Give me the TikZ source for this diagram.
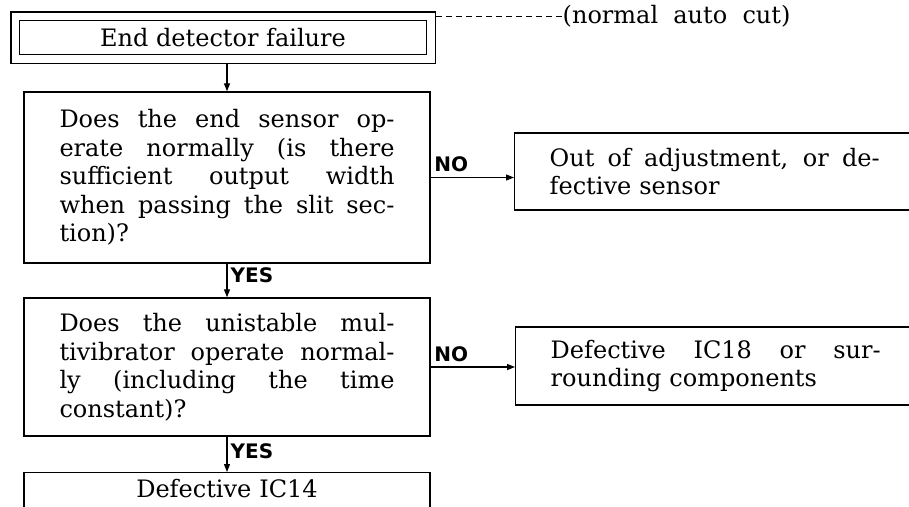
\documentclass[tikz,border=0pt]{standalone}
\usepackage{fontspec}
\setmainfont{DejaVu Serif}
\newfontfamily\labfont{DejaVu Sans}
\usetikzlibrary{arrows.meta}
% one justified line inside a box
\newcommand{\jl}[2][335pt]{\makebox[#1][s]{\spaceskip=0.32em plus 1fil\relax #2}}

\begin{document}
\begin{tikzpicture}[x=1pt,y=-1pt,line width=1.4pt,
    txt/.style={font=\fontsize{24pt}{28.5pt}\selectfont},
    topbox/.style={txt,draw,double,double distance=7.5pt,inner sep=0pt,
      minimum width=415.5pt,minimum height=42.5pt},
    qbox/.style={txt,draw,align=left,text width=335pt,inner xsep=35.5pt},
    rbox/.style={txt,draw,align=left,text width=330pt,inner xsep=35pt,anchor=west},
    arr/.style={-{Triangle[length=8pt,width=6pt]},line width=1.3pt},
    lab/.style={font=\labfont\bfseries\fontsize{20pt}{20pt}\selectfont,inner xsep=3pt,inner ysep=5pt}]
  \useasboundingbox (0,0) rectangle (909,506);

  \node[topbox] (fail) at (223,37.5) {End detector failure};
  \node[txt,inner sep=0pt,anchor=west] (cut) at (562,16) {(normal\ \ auto\ \ cut)};
  \draw[dashed,dash pattern=on 6pt off 4pt,line width=1pt,shorten <=4.5pt] (fail.east |- cut.west) -- (cut.west);

  \node[qbox,minimum height=171pt] (sensor) at (227,177.5) {%
    \jl{Does the end sensor op-}\\
    \jl{erate normally (is there}\\
    \jl{sufficient output width}\\
    \jl{when passing the slit sec-}\\
    tion)?};
  \node[rbox,minimum height=77pt] (adjust) at (514,171.5) {%
    \jl[330pt]{Out of adjustment, or de-}\\
    fective sensor};

  \node[qbox,minimum height=138pt] (multivib) at (227,367) {%
    \jl{Does the unistable mul-}\\
    \jl{tivibrator operate normal-}\\
    \jl{ly (including the time}\\
    constant)?};
  \node[rbox,minimum height=78pt] (ic18) at (515,366) {%
    \jl[330pt]{Defective IC18 or sur-}\\
    rounding components};

  \node[qbox,align=center,anchor=north,inner ysep=4pt,text height=21pt,text depth=40pt] (ic14) at (227,472) {Defective IC14};

  \draw[arr,shorten <=4.5pt] (fail.south -| sensor.north) -- (sensor.north);
  \draw[arr] (sensor.east) -- (sensor.east -| adjust.west) node[lab,anchor=south west,pos=0] {NO};
  \draw[arr] (sensor.south) -- (multivib.north) node[lab,anchor=west,pos=0.34,inner ysep=0pt] {YES};
  \draw[arr] (multivib.east) -- (multivib.east -| ic18.west) node[lab,anchor=south west,pos=0] {NO};
  \draw[arr] (multivib.south) -- (ic14.north) node[lab,anchor=west,pos=0.4,inner ysep=0pt] {YES};
\end{tikzpicture}
\end{document}
